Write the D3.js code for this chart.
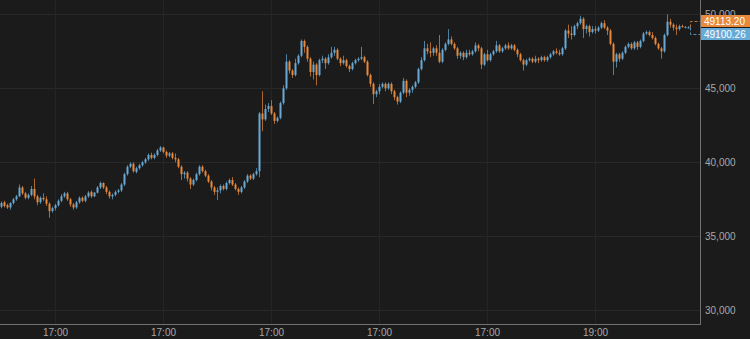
<!DOCTYPE html>
<html>
<head>
<meta charset="utf-8">
<script src="https://cdn.jsdelivr.net/npm/d3@7"></script>
<style>
  html, body { margin: 0; padding: 0; background: #1b1b1b; overflow: hidden; }
  svg { display: block; }
</style>
</head>
<body>
<div class="forSvg"></div>
<script>
// candle data, one value per bar (oldest first)
const candleOpen = [
  37000,37300,37100,36950,37250,37500,37700,38300,37900,37600,
  37800,38200,37700,37300,37600,37500,37200,36700,36900,37100,
  37400,37700,37900,37500,37150,36950,37300,37600,37400,37700,
  38000,37700,37950,38300,38600,38300,38000,37700,37800,38000,
  38100,38500,39200,39700,39900,39350,39600,39800,40000,40200,
  40500,40300,40500,40800,41000,40700,40450,40600,40300,40200,
  39700,39200,39300,38900,38500,38800,39200,39700,39400,39100,
  38700,38300,38000,38100,38400,38200,38600,38800,38500,38200,
  38000,38300,38700,39100,38900,39200,39400,43300,42900,43600,
  43800,43300,42800,43000,44000,45000,46800,46200,45900,46700,
  47200,48200,47800,47000,46100,46600,45900,46900,47000,46700,
  47100,47400,47600,47000,46700,46900,46500,46300,46700,46900,
  47000,47100,46800,45900,45300,44600,44800,45100,45300,45000,
  45300,44800,44400,44100,44700,45500,44700,44900,45100,45400,
  46300,46900,47700,47500,47400,47700,47400,46800,47600,48000,
  48300,48000,47700,47200,47400,47100,47400,47300,47500,47900,
  47700,46600,47300,46900,47300,47500,47900,47500,47700,47900,
  47700,47900,47600,47300,46900,46600,46900,47000,46800,47000,
  46900,47100,46900,47100,47300,47500,47400,47300,47700,48900,
  48700,48600,49200,49400,49700,49000,49200,48800,49000,48900,
  49100,49400,49100,48900,48000,46800,47300,47000,47400,47800,
  48000,47700,48100,47800,48200,48700,48800,48600,48400,48000,
  47700,47500,48600,49500,49300,49100,49000,49200,49100,49100
];
const candleClose = [
  37250,37050,36950,37250,37500,37700,38300,37900,37600,37800,
  38200,37700,37300,37600,37500,37200,36700,36900,37100,37400,
  37700,37900,37500,37150,36950,37300,37600,37400,37700,37950,
  37700,37950,38300,38600,38300,38000,37700,37800,38000,38100,
  38500,39200,39700,39900,39400,39600,39800,40000,40200,40500,
  40300,40500,40800,41000,40700,40450,40600,40300,40200,39700,
  39200,39300,38900,38500,38800,39200,39700,39400,39100,38700,
  38300,38000,38100,38400,38200,38600,38800,38500,38200,38000,
  38300,38700,39100,38900,39200,39400,43300,42900,43600,43800,
  43300,42800,43000,44000,45000,46800,46200,45900,46700,47200,
  48200,47800,47000,46100,46600,45900,46900,47000,46700,47100,
  47400,47600,47000,46700,46900,46500,46300,46700,46900,47000,
  47100,46800,45900,45300,44600,44800,45100,45300,45000,45300,
  44800,44400,44100,44700,45500,44700,44900,45100,45400,46300,
  46900,47700,47500,47400,47700,47400,46800,47600,48000,48300,
  48000,47700,47200,47400,47100,47400,47300,47500,47900,47700,
  46600,47300,46900,47300,47500,47900,47500,47700,47900,47700,
  47900,47600,47300,46900,46600,46900,47000,46800,47000,46900,
  47100,46900,47100,47300,47500,47400,47300,47700,48900,48700,
  48600,49200,49400,49700,49000,49200,48800,49000,48900,49100,
  49400,49100,48900,48000,46800,47300,47000,47400,47800,48000,
  47700,48100,47800,48200,48700,48800,48600,48400,48000,47700,
  47500,48600,49500,49300,49100,49000,49200,49150,49150,49113
];
const candleHigh = [
  37350,37400,37200,37300,37600,37800,38500,38400,38000,37900,
  38400,38900,37800,37700,37900,37700,37300,37000,37200,37500,
  37850,38000,38000,37600,37250,37400,37700,37700,37800,38050,
  38100,38000,38400,38700,38650,38400,38100,37900,38100,38200,
  38600,39300,39800,40000,40000,39700,39900,40100,40300,40600,
  40650,40600,40900,41100,41050,40800,40700,40700,40600,40300,
  39800,39400,39400,39000,38900,39300,39800,39800,39500,39200,
  38800,38400,38300,38500,38500,38700,38900,39000,38600,38300,
  38400,38800,39200,39200,39300,39600,43400,44800,43900,44000,
  44200,43400,43100,44100,45200,47300,46900,46300,47000,47300,
  48300,48300,47900,47100,46800,46700,47000,47200,47100,47300,
  47800,47800,47700,47100,47200,47000,46600,46800,47000,47100,
  47800,47200,46900,46000,45400,44900,45300,45400,45400,45400,
  45400,44900,44500,44800,45700,45600,45000,45200,45500,46400,
  47100,48200,48000,48100,47800,47900,48600,47700,48100,49000,
  48500,48100,47800,47500,47500,47600,47600,47600,48100,48000,
  47800,47400,47600,47400,47600,48200,48000,47800,48000,48100,
  48000,48000,47700,47400,47000,47000,47100,47100,47200,47100,
  47200,47200,47200,47400,47600,47700,47600,47800,49000,49300,
  49200,49300,49500,49900,49800,49300,49300,49200,49200,49200,
  49500,49600,49200,49000,48100,47400,47400,47500,47900,48100,
  48100,48200,48200,48300,48800,48900,48900,48800,48500,48100,
  47800,48700,50000,49700,49400,49300,49300,49300,49200,49200
];
const candleLow = [
  36900,36950,36850,36800,37150,37400,37650,37800,37500,37500,
  37700,37500,37100,37200,37400,37050,36250,36600,36750,37000,
  37300,37600,37400,37000,36800,36850,37200,37300,37300,37600,
  37600,37650,37900,38200,38200,37850,37550,37500,37700,37900,
  38000,38400,39100,39600,39300,39250,39500,39700,39900,40100,
  40200,40200,40400,40700,40600,40300,40350,40200,40000,39600,
  38800,38900,38700,38200,38400,38700,39100,39300,39000,38600,
  38100,37800,37450,37900,38100,38100,38500,38400,38100,37800,
  37900,38200,38600,38800,38800,39100,39000,42100,42800,43400,
  43200,42600,42700,42900,43900,44900,46000,45700,45800,46600,
  47100,47400,46800,45800,45600,45200,45800,46700,46300,46600,
  47000,47200,46900,46500,46600,46400,46100,46200,46600,46800,
  46900,46700,45800,45100,43950,44400,44600,45000,44800,44900,
  44600,44200,43900,44000,44600,44400,44500,44700,45000,45300,
  46200,46800,47300,47100,47200,47200,46700,46700,47500,47900,
  47900,47600,47000,47000,46900,47000,47200,47200,47400,47500,
  46300,46500,46800,46800,47200,47400,47400,47400,47600,47600,
  47600,47500,47100,46800,46200,46500,46800,46700,46700,46700,
  46800,46800,46800,47000,47200,47300,47200,47200,47600,48400,
  48300,48500,49000,49300,48400,48700,48500,48700,48700,48800,
  49000,49000,48600,47900,45900,46400,46800,46900,47300,47700,
  47600,47600,47600,47700,48100,48600,48500,48300,47900,47600,
  47000,47400,48500,49100,48900,48600,48900,49100,49050,49050
];

// x axis: bar index where each label sits, and its text
const xTickIndex = [18, 54, 90, 126, 162, 198];
const xTickLabels = ["17:00", "17:00", "17:00", "17:00", "17:00", "19:00"];
// y axis ticks
const yTicks = [30000, 35000, 40000, 45000, 50000];
// last price tags (orange on top, blue below)
const lastPrices = [49113.20, 49100.26];

const svg_w = 750;
const svg_h = 339;
const plotRight = 700;
const plotBottom = 324;
const barStep = 3;

const upColor = "#68aad6";
const downColor = "#e8893b";
const textColor = "#a8a8a8";
const font = "'Liberation Sans', Arial, sans-serif";

const N = candleClose.length;

const xScale = d3.scaleBand()
  .domain(d3.range(N))
  .range([0, N * barStep]);

const yScale = d3.scaleLinear()
  .domain([30000, 50000])
  .range([310.3, 14.3]);

const svg = d3.select(".forSvg")
  .append("svg")
  .attr("width", svg_w)
  .attr("height", svg_h);

svg.append("rect")
  .attr("width", svg_w).attr("height", svg_h)
  .attr("fill", "#1b1b1b");

// grid
svg.append("g")
  .selectAll("line")
  .data(yTicks)
  .join("line")
  .attr("x1", 0).attr("x2", plotRight)
  .attr("y1", d => Math.round(yScale(d)) + 0.5)
  .attr("y2", d => Math.round(yScale(d)) + 0.5)
  .attr("stroke", "#282828");

svg.append("g")
  .selectAll("line")
  .data(xTickIndex)
  .join("line")
  .attr("x1", d => xScale(d) + 1.5).attr("x2", d => xScale(d) + 1.5)
  .attr("y1", 0).attr("y2", plotBottom)
  .attr("stroke", "#252525");

// candles
const candles = svg.append("g")
  .selectAll("g")
  .data(d3.range(N))
  .join("g");

const colorOf = i => candleClose[i] >= candleOpen[i] ? upColor : downColor;

candles.append("rect")
  .attr("x", i => xScale(i) + 1)
  .attr("width", 1)
  .attr("y", i => yScale(candleHigh[i]))
  .attr("height", i => Math.max(1, yScale(candleLow[i]) - yScale(candleHigh[i])))
  .attr("fill", colorOf)
  .attr("opacity", 0.7);

candles.append("rect")
  .attr("x", i => xScale(i) + 0.5)
  .attr("width", 2)
  .attr("y", i => yScale(Math.max(candleOpen[i], candleClose[i])))
  .attr("height", i => Math.max(1, Math.abs(yScale(candleOpen[i]) - yScale(candleClose[i]))))
  .attr("fill", colorOf);

// axes
const yAxis = d3.axisRight(yScale)
  .tickValues(yTicks)
  .tickSize(0)
  .tickPadding(5)
  .tickFormat(d3.format(","));

const gy = svg.append("g")
  .attr("transform", "translate(" + plotRight + ",0)")
  .call(yAxis);
gy.select(".domain").remove();
gy.selectAll("text")
  .attr("fill", textColor)
  .style("font-family", font)
  .style("font-size", "10px");

const xAxis = d3.axisBottom(xScale)
  .tickValues(xTickIndex)
  .tickSize(0)
  .tickPadding(5)
  .tickFormat((d, i) => xTickLabels[i]);

const gx = svg.append("g")
  .attr("transform", "translate(0," + plotBottom + ")")
  .call(xAxis);
gx.select(".domain").remove();
gx.selectAll("text")
  .attr("fill", textColor)
  .style("font-family", font)
  .style("font-size", "10px");

// frame lines
svg.append("line")
  .attr("x1", plotRight + 0.5).attr("x2", plotRight + 0.5)
  .attr("y1", 0).attr("y2", plotBottom + 1)
  .attr("stroke", "#707070");
svg.append("line")
  .attr("x1", 0).attr("x2", plotRight + 1)
  .attr("y1", plotBottom + 0.5).attr("y2", plotBottom + 0.5)
  .attr("stroke", "#707070");

// last price tags with leader lines
const tagColors = [downColor, upColor];
const tagY = [21, 34];
const anchorY = yScale(lastPrices[0]);

lastPrices.forEach((p, k) => {
  svg.append("path")
    .attr("d", "M690.5," + anchorY + "V" + (tagY[k] + 0.5) + "H" + plotRight)
    .attr("fill", "none")
    .attr("stroke", tagColors[k])
    .attr("stroke-dasharray", "3,2")
    .attr("opacity", 0.8);
  svg.append("rect")
    .attr("x", plotRight + 1).attr("y", tagY[k] - 6)
    .attr("width", svg_w - plotRight - 1).attr("height", 12)
    .attr("fill", tagColors[k]);
  svg.append("text")
    .attr("x", plotRight + 4).attr("y", tagY[k])
    .attr("dy", "0.35em")
    .attr("fill", "#ffffff")
    .style("font-family", font)
    .style("font-size", "10px")
    .text(p.toFixed(2));
});
</script>
</body>
</html>
